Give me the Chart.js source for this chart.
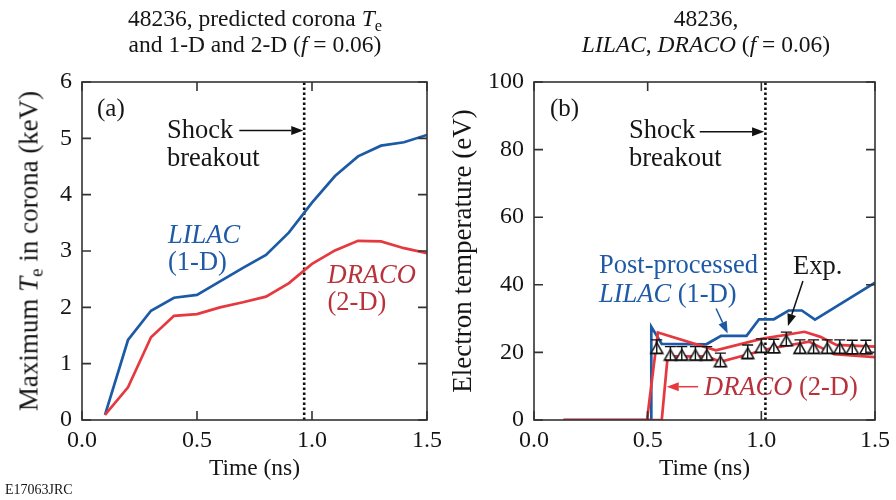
<!DOCTYPE html>
<html>
<head>
<meta charset="utf-8">
<script src="https://cdn.jsdelivr.net/npm/chart.js@4.4.1/dist/chart.umd.min.js"></script>
<style>
  body { margin: 0; background: #fff; }
  #wrap { position: relative; width: 896px; height: 500px; overflow: hidden;
          font-family: "Liberation Serif", "Times New Roman", serif; color: #151515; }
  #wrap canvas { position: absolute; top: 0; }
  .t { position: absolute; white-space: nowrap; line-height: 1; }
  .sub { font-size: 70%; position: relative; top: 0.28em; }
  .blue { color: #1f5aa6; }
  .red { color: #b8323c; }
</style>
</head>
<body>
<div id="wrap">
  <canvas id="chartA" width="448" height="500" style="left:0"></canvas>
  <canvas id="chartB" width="448" height="500" style="left:448px"></canvas>
</div>
<script>
// (a) peak corona Te, keV
const timeA = [0.1, 0.2, 0.3, 0.4, 0.5, 0.6, 0.7, 0.8, 0.9, 1.0, 1.1, 1.2, 1.3, 1.4, 1.5];
const lilacA = [0.09, 1.42, 1.94, 2.17, 2.22, 2.46, 2.70, 2.93, 3.33, 3.86, 4.33, 4.68, 4.87, 4.93, 5.06];
const dracoA = [0.09, 0.58, 1.47, 1.85, 1.88, 2.00, 2.09, 2.19, 2.43, 2.77, 3.01, 3.18, 3.17, 3.05, 2.96];
const shockA = 0.966;

// (b) electron temperature, eV
const lilacTimeB = [0.13, 0.516, 0.516, 0.562, 0.758, 0.823, 0.935, 0.99, 1.055, 1.12, 1.178, 1.236, 1.5];
const lilacTeB = [0, 0, 27.6, 22.5, 22.4, 24.9, 24.9, 29.8, 29.8, 32.4, 32.4, 29.7, 40.6];
const dracoHiTime = [0.13, 0.497, 0.545, 0.80, 1.0, 1.19, 1.26, 1.33, 1.5];
const dracoHiTe = [0, 0, 25.9, 20.6, 24.0, 26.1, 24.6, 22.2, 21.7];
const dracoLoTime = [0.13, 0.562, 0.588, 0.76, 0.82, 1.03, 1.21, 1.32, 1.5];
const dracoLoTe = [0, 0, 18.8, 18.8, 17.2, 21.0, 23.2, 19.5, 18.6];
const expTime = [0.54, 0.60, 0.65, 0.71, 0.76, 0.82, 0.94, 1.00, 1.055, 1.11, 1.17, 1.23, 1.29, 1.345, 1.40, 1.46];
const expTe = [21.7, 19.7, 19.7, 19.7, 19.7, 17.8, 20.2, 22.0, 21.9, 24.0, 21.7, 21.7, 21.7, 21.7, 21.6, 21.6];
const expErr = [2, 2, 2, 2, 2, 2, 2, 2, 2, 2, 2, 2, 2, 2, 2, 2];
const shockB = 1.018;

const xTicks = [0, 0.5, 1.0, 1.5];

const BLUE = '#1d5aa5';
const RED = '#e6393f';
const FONT = '"Liberation Serif", "Times New Roman", serif';

Chart.defaults.font.family = FONT;
Chart.defaults.color = '#151515';

const pts = (xs, ys) => xs.map((x, i) => ({x, y: ys[i]}));

// open triangle, drawn low so the base sits on the lower error cap
function triangleMark() {
  const c = document.createElement('canvas');
  c.width = 16; c.height = 24;
  const g = c.getContext('2d');
  g.beginPath();
  g.moveTo(8, 8.2); g.lineTo(14.1, 18.8); g.lineTo(1.9, 18.8); g.closePath();
  g.fillStyle = '#fff'; g.fill();
  g.lineWidth = 1.5; g.strokeStyle = '#111'; g.stroke();
  return c;
}

// box frame with inward ticks on all four sides
const frame = {
  id: 'frame',
  afterDatasetsDraw(chart) {
    const {ctx, chartArea: a, scales: {x, y}} = chart;
    ctx.save();
    ctx.strokeStyle = '#333';
    ctx.lineWidth = 1.6;
    ctx.beginPath();
    x.ticks.forEach(t => {
      const px = x.getPixelForValue(t.value);
      ctx.moveTo(px, a.bottom); ctx.lineTo(px, a.bottom - 9);
      ctx.moveTo(px, a.top); ctx.lineTo(px, a.top + 9);
    });
    y.ticks.forEach(t => {
      const py = y.getPixelForValue(t.value);
      ctx.moveTo(a.left, py); ctx.lineTo(a.left + 9, py);
      ctx.moveTo(a.right, py); ctx.lineTo(a.right - 9, py);
    });
    ctx.stroke();
    ctx.strokeRect(a.left, a.top, a.right - a.left, a.bottom - a.top);
    ctx.restore();
  }
};

// pointer arrows given in data units
const arrows = {
  id: 'arrows',
  afterDraw(chart, args, opts) {
    const {ctx, scales: {x, y}} = chart;
    (opts.list || []).forEach(a => {
      const x0 = x.getPixelForValue(a.from[0]), y0 = y.getPixelForValue(a.from[1]);
      const x1 = x.getPixelForValue(a.to[0]), y1 = y.getPixelForValue(a.to[1]);
      const ang = Math.atan2(y1 - y0, x1 - x0);
      const L = 12, W = 4.5;
      ctx.save();
      ctx.strokeStyle = ctx.fillStyle = a.color;
      ctx.lineWidth = 1.5;
      ctx.beginPath();
      ctx.moveTo(x0, y0);
      ctx.lineTo(x1 - Math.cos(ang) * L, y1 - Math.sin(ang) * L);
      ctx.stroke();
      ctx.beginPath();
      ctx.moveTo(x1, y1);
      ctx.lineTo(x1 - Math.cos(ang) * L - Math.sin(ang) * W, y1 - Math.sin(ang) * L + Math.cos(ang) * W);
      ctx.lineTo(x1 - Math.cos(ang) * L + Math.sin(ang) * W, y1 - Math.sin(ang) * L - Math.cos(ang) * W);
      ctx.closePath();
      ctx.fill();
      ctx.restore();
    });
  }
};

// vertical error bars with caps for the measured points
const errorBars = {
  id: 'errorBars',
  afterDatasetsDraw(chart, args, opts) {
    if (!opts.err) return;
    const {ctx, scales: {x, y}} = chart;
    ctx.save();
    ctx.strokeStyle = '#111';
    ctx.lineWidth = 1.4;
    ctx.beginPath();
    opts.x.forEach((t, i) => {
      const px = x.getPixelForValue(t);
      const hi = y.getPixelForValue(opts.y[i] + opts.err[i]);
      const lo = y.getPixelForValue(opts.y[i] - opts.err[i]);
      ctx.moveTo(px, hi); ctx.lineTo(px, lo);
      ctx.moveTo(px - 5.5, hi); ctx.lineTo(px + 5.5, hi);
      ctx.moveTo(px - 5.5, lo); ctx.lineTo(px + 5.5, lo);
    });
    ctx.stroke();
    ctx.restore();
  }
};

function lineSet(data, color, order) {
  return {data, borderColor: color, borderWidth: 2.7, pointRadius: 0, tension: 0, fill: false, order};
}

function dottedSet(t, ymax) {
  return {data: [{x: t, y: 0}, {x: t, y: ymax}], borderColor: '#111', borderWidth: 2.6,
          borderDash: [2.6, 2.4], pointRadius: 0, order: 5};
}

function makeOptions(yMax, yStep, yWidth, padRight, yTitle, extra) {
  return {
    responsive: false,
    animation: false,
    devicePixelRatio: 1,
    layout: {padding: {left: 0, top: 82, right: padRight, bottom: 0}},
    plugins: Object.assign({legend: {display: false}, tooltip: {enabled: false}}, extra),
    scales: {
      x: {
        type: 'linear', min: 0, max: 1.5,
        afterBuildTicks: s => { s.ticks = xTicks.map(v => ({value: v})); },
        afterFit: s => { s.height = 80; },
        grid: {display: false, drawTicks: false},
        border: {display: false},
        ticks: {padding: 6, font: {size: 24}, color: '#151515', maxRotation: 0,
                callback: v => v.toFixed(1)},
        title: {display: true, text: 'Time (ns)', font: {size: 23.5}, color: '#151515',
                padding: {top: 0, bottom: 17}}
      },
      y: {
        type: 'linear', min: 0, max: yMax,
        afterFit: s => { s.width = yWidth; },
        grid: {display: false, drawTicks: false},
        border: {display: false},
        ticks: {stepSize: yStep, padding: 10, font: {size: 24}, color: '#151515'},
        title: {display: !!yTitle, text: yTitle, font: {size: 27}, color: '#151515',
                padding: {top: 0, bottom: 0}}
      }
    }
  };
}

new Chart(document.getElementById('chartA'), {
  type: 'line',
  data: {
    datasets: [
      lineSet(pts(timeA, dracoA), RED, 2),
      lineSet(pts(timeA, lilacA), BLUE, 3),
      dottedSet(shockA, 6)
    ]
  },
  options: makeOptions(6, 1, 82, 20, '', {
    arrows: {list: [{from: [0.684, 5.14], to: [0.962, 5.14], color: '#111'}]}
  }),
  plugins: [frame, arrows]
});

new Chart(document.getElementById('chartB'), {
  type: 'line',
  data: {
    datasets: [
      {data: pts(expTime, expTe), showLine: false, pointStyle: triangleMark(), pointRadius: 6, order: 0},
      lineSet(pts(dracoHiTime, dracoHiTe), RED, 1),
      lineSet(pts(dracoLoTime, dracoLoTe), RED, 1),
      lineSet(pts(lilacTimeB, lilacTeB), BLUE, 3),
      dottedSet(shockB, 100)
    ]
  },
  options: makeOptions(100, 20, 86, 17, 'Electron temperature (eV)', {
    errorBars: {x: expTime, y: expTe, err: expErr},
    arrows: {list: [
      {from: [0.729, 85.3], to: [1.012, 85.3], color: '#111'},
      {from: [0.801, 33.0], to: [0.852, 25.6], color: BLUE},
      {from: [1.183, 41.1], to: [1.117, 27.8], color: '#111'},
      {from: [0.722, 9.85], to: [0.584, 9.85], color: RED}
    ]}
  }),
  plugins: [frame, errorBars, arrows]
});

// titles and in-plot labels
const wrap = document.getElementById('wrap');
function text(html, x, base, size, cls, center) {
  const d = document.createElement('div');
  d.className = 't' + (cls ? ' ' + cls : '');
  d.innerHTML = html;
  d.style.fontSize = size + 'px';
  d.style.left = x + 'px';
  d.style.top = (base - size * 0.8375) + 'px';
  if (center) d.style.transform = 'translateX(-50%)';
  wrap.appendChild(d);
}

text('48236, predicted corona <i>T</i><span class="sub">e</span>', 255, 27, 23.5, '', true);
text('and 1-D and 2-D (<i>f</i> = 0.06)', 255, 53, 23.5, '', true);
text('48236,', 706, 27, 23.5, '', true);
text('<i>LILAC</i>, <i>DRACO</i> (<i>f</i> = 0.06)', 706, 53, 23.5, '', true);

text('(a)', 97, 116, 25);
text('Shock', 167, 138, 26.5);
text('breakout', 167, 166.5, 26.5);
text('<i>LILAC</i>', 168, 243, 26.5, 'blue');
text('(1-D)', 168, 270, 26.5, 'blue');
text('<i>DRACO</i>', 327.5, 282.7, 26.5, 'red');
text('(2-D)', 327.5, 310, 26.5, 'red');

text('(b)', 550, 116, 25);
text('Shock', 629, 138, 26.5);
text('breakout', 629, 166.5, 26.5);
text('Post-processed', 599, 272.7, 26.5, 'blue');
text('<i>LILAC</i> (1-D)', 599, 301.7, 26.5, 'blue');
text('Exp.', 793, 274, 26.5);
text('<i>DRACO</i> (2-D)', 704, 395, 26.5, 'red');

text('E17063JRC', 5, 495, 14);

// rotated y title for (a)
const yt = document.createElement('div');
yt.className = 't';
yt.innerHTML = 'Maximum <i>T</i><span class="sub">e</span> in corona (keV)';
yt.style.fontSize = '27px';
yt.style.left = '29px';
yt.style.top = '251px';
yt.style.transform = 'translate(-50%, -50%) rotate(-90deg)';
wrap.appendChild(yt);
</script>
</body>
</html>
